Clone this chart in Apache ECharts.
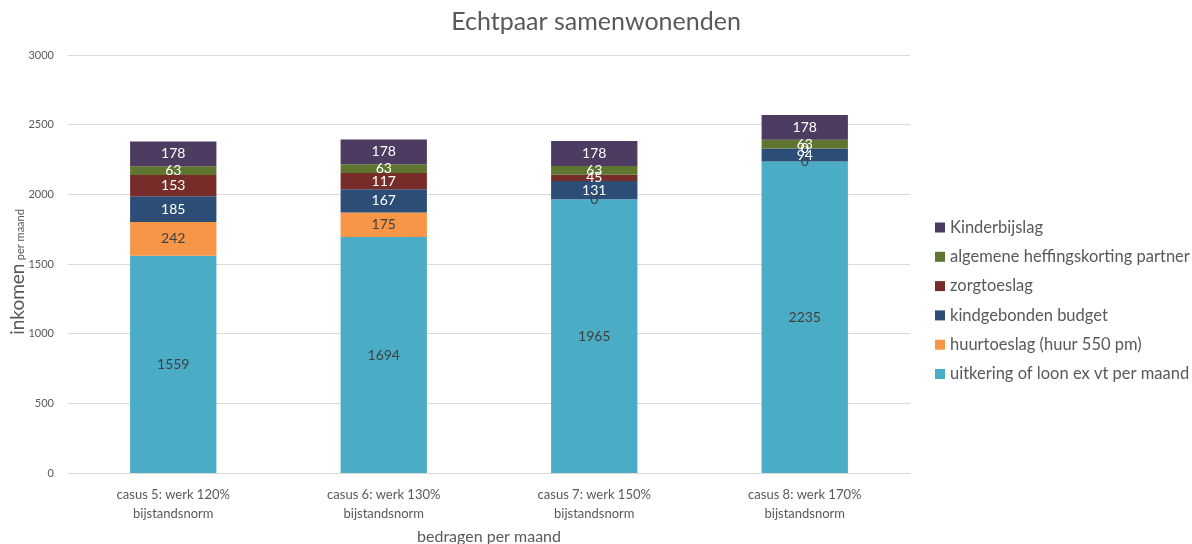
<!DOCTYPE html>
<html><head><meta charset="utf-8">
<script src="https://cdn.jsdelivr.net/npm/echarts@6/dist/echarts.min.js"></script>
<style>html,body{margin:0;padding:0;background:#fff}#c{width:1192px;height:544px}</style>
</head><body><div id="c"></div>
<script>
const categories = ['casus 5: werk 120%\nbijstandsnorm','casus 6: werk 130%\nbijstandsnorm','casus 7: werk 150%\nbijstandsnorm','casus 8: werk 170%\nbijstandsnorm'];
const seriesNames = ['uitkering of loon ex vt per maand','huurtoeslag (huur 550 pm)','kindgebonden budget','zorgtoeslag','algemene heffingskorting partner','Kinderbijslag'];
const uitkering = [1559,1694,1965,2235];
const huurtoeslag = [242,175,0,0];
const kindgebonden = [185,167,131,94];
const zorgtoeslag = [153,117,45,0];
const heffingskorting = [63,63,63,63];
const kinderbijslag = [178,178,178,178];
const yTicks = [0,500,1000,1500,2000,2500,3000];
const colors = ['#4BACC6','#F79646','#2C4D75','#772C2A','#5F7530','#4D3B62'];
const labelColors = ['#404040','#404040','#fff','#fff','#fff','#fff'];
const values = [uitkering,huurtoeslag,kindgebonden,zorgtoeslag,heffingskorting,kinderbijslag];
const FONT = 'Lato, "Open Sans", sans-serif';
const chart = echarts.init(document.getElementById('c'));
chart.setOption({
  animation:false,
  title:{text:'Echtpaar samenwonenden',left:'center',top:4,textStyle:{fontFamily:FONT,fontSize:25,fontWeight:'normal',color:'#595959'}},
  legend:{orient:'vertical',left:930,top:214,itemWidth:10,itemHeight:10,itemGap:12.3,icon:'rect',
    data:seriesNames.slice().reverse(),textStyle:{fontFamily:FONT,fontSize:16.5,color:'#595959'}},
  grid:{left:68,right:282,top:55,bottom:71,outerBoundsMode:'none',containLabel:false},
  xAxis:{type:'category',data:categories,axisLine:{show:true,lineStyle:{color:'#d9d9d9'}},axisTick:{show:false},
    axisLabel:{fontFamily:FONT,fontSize:13,color:'#595959',lineHeight:19,margin:12},
    name:'bedragen per maand',nameLocation:'middle',nameGap:56,nameMoveOverlap:false,nameTextStyle:{fontFamily:FONT,fontSize:16,color:'#595959'}},
  yAxis:{type:'value',min:0,max:3000,interval:500,
    axisLabel:{fontFamily:FONT,fontSize:11,color:'#595959',margin:14,formatter:v=>yTicks.includes(v)?String(v):''},
    splitLine:{lineStyle:{color:'#d9d9d9'}},
    name:'{a|inkomen} {b|per maand}',nameLocation:'middle',nameGap:41,nameMoveOverlap:false,
    nameTextStyle:{padding:[0,16,0,0],rich:{a:{fontFamily:FONT,fontSize:19,color:'#595959'},b:{fontFamily:FONT,fontSize:11,color:'#595959',padding:[5,0,0,0]}}}},
  series:seriesNames.map((n,i)=>({
    name:n,type:'bar',stack:'t',barWidth:'41%',data:values[i],
    itemStyle:{color:colors[i]},
    label:{show:true,position:'inside',fontFamily:FONT,fontSize:14,color:labelColors[i]}
  }))
});
</script></body></html>
